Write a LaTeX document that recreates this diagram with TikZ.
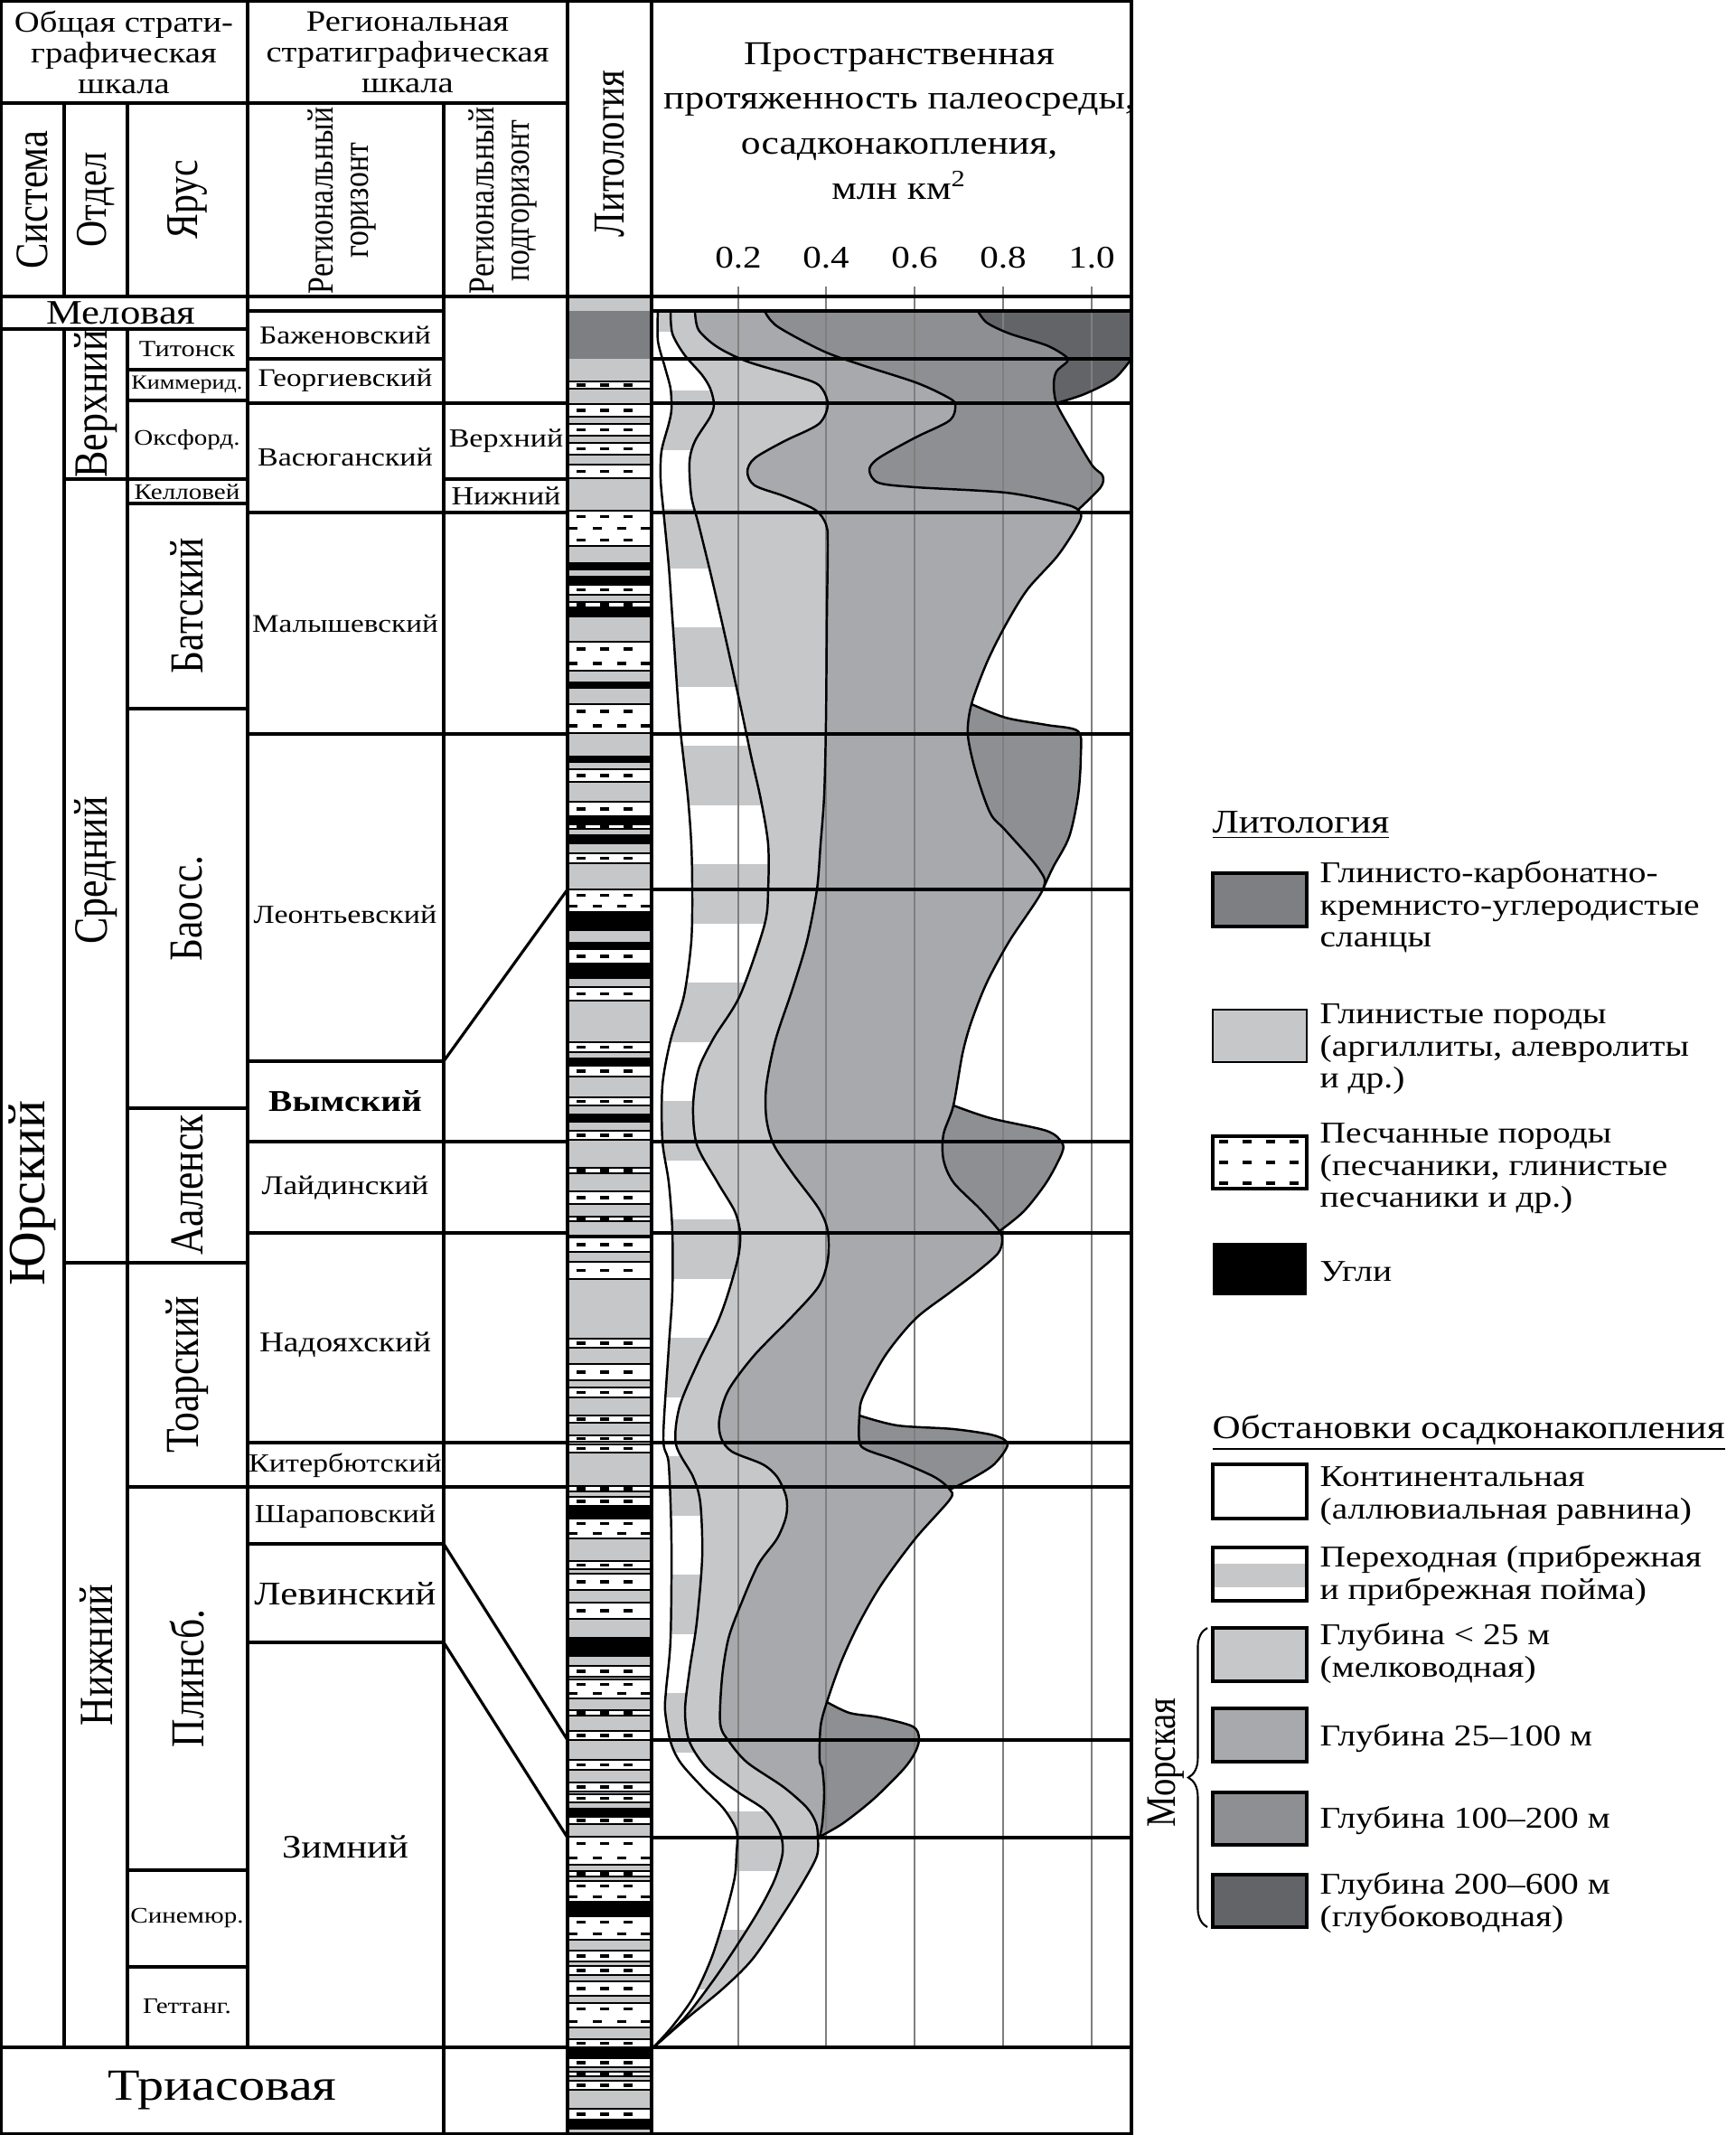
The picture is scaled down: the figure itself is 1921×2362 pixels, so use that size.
\documentclass[tikz,border=0pt]{standalone}
\usepackage{fontspec}
\setmainfont[FakeStretch=1.18]{Liberation Serif}
\newfontfamily\rotfont{Liberation Serif}
\usetikzlibrary{decorations.pathreplacing}

\definecolor{clay}{HTML}{C6C7C9}
\definecolor{mid}{HTML}{A7A9AC}
\definecolor{deep}{HTML}{8E8F92}
\definecolor{abyss}{HTML}{636468}
\definecolor{shale}{HTML}{7E7F83}
\definecolor{gridgray}{HTML}{7F7F7F}

\newcommand\fsz[2]{\fontsize{#1pt}{#2pt}\selectfont}
\newcommand\vtext[3]{\scalebox{1}[1.2]{\rotfont\fsz{#1}{#2}#3}}

\tikzset{
  rule/.style={line width=0.9pt},
  curve/.style={line width=0.7pt},
  gridline/.style={gridgray, line width=0.7pt},
  txt/.style={inner sep=0pt, align=center},
  vtxt/.style={inner sep=0pt, rotate=90},
  keybox/.style={draw, line width=1pt},
}

% sandstone bed in the lithology column
\newcommand\sandbed[2]{%
  \fill[white] (628,#1) rectangle (721,#2);
  \draw[line width=0.7pt] (628,#1) -- (721,#1) (628,#2) -- (721,#2);
  \pgfmathtruncatemacro\nrow{max(1,round((#2-#1)/13))}%
  \foreach \r in {1,...,\nrow}{%
    \pgfmathsetmacro\yy{#1+(\r-0.5)*(#2-#1)/\nrow}%
    \ifodd\r\relax
      \foreach \xx in {643,669,695}{\fill (\xx-5,\yy-1.7) rectangle (\xx+5,\yy+1.7);}%
    \else
      \foreach \xx in {634,661,688,714}{\fill (\xx-5,\yy-1.7) rectangle (\xx+5,\yy+1.7);}%
    \fi
  }%
}
% area from the left edge of the chart to a boundary curve
\newcommand\zonefill[4]{\edef\zonetmp{\noexpand\fill[#1] (721,#2) -- plot[smooth] coordinates {#3} -- (721,#4) -- cycle;}\zonetmp}
\newcommand\zoneline[1]{\edef\zonetmp{\noexpand\draw[curve] plot[smooth] coordinates {#1};}\zonetmp}
\newcommand\zoneclip[1]{\edef\zonetmp{\noexpand\clip (721,344) -- plot[smooth] coordinates {#1} -- (721,2266) -- cycle;}\zonetmp}

% boundary curves
\def\crvA{(728,344) (728,377) (736,407) (742,430) (743,453) (740,469) (732,499) (731,530) (734,564) (740,626) (744,683) (752,798) (761,880) (765,934) (766,984) (765,1041) (757,1101) (742,1151) (733,1201) (733,1262) (740,1308) (744,1362) (744,1430) (740,1491) (734,1591) (740,1620) (743,1706) (742,1813) (737,1870) (736,1893) (742,1927) (753,1950) (777,1977) (800,2000) (813,2020) (816,2032) (815,2050) (813,2077) (803,2117) (787,2167) (767,2210) (743,2243) (722,2266)}
\def\crvB{(742,344) (744,369) (757,392) (777,415) (786,430) (790,447) (786,461) (769,488) (763,511) (765,549) (773,580) (786,633) (802,702) (819,779) (831,836) (842,885) (850,934) (850,984) (846,1023) (819,1101) (790,1148) (773,1183) (767,1223) (771,1266) (794,1308) (813,1340) (819,1364) (817,1390) (806,1430) (794,1463) (773,1506) (752,1556) (748,1598) (767,1634) (775,1663) (777,1723) (771,1795) (763,1848) (758,1893) (763,1927) (783,1957) (817,1983) (847,2003) (863,2027) (866,2050) (857,2080) (840,2113) (817,2150) (790,2190) (757,2233) (722,2266)}
\def\crvC{(769,344) (773,365) (794,384) (827,400) (877,415) (906,426) (916,447) (906,469) (868,488) (835,507) (827,522) (835,537) (868,549) (902,564) (914,580) (916,600) (915,683) (914,798) (912,880) (908,934) (904,984) (893,1041) (877,1094) (858,1151) (848,1201) (848,1237) (856,1266) (877,1298) (906,1337) (916,1362) (916,1394) (906,1423) (877,1456) (835,1499) (806,1538) (796,1570) (798,1591) (810,1606) (844,1620) (860,1634) (870,1656) (870,1677) (860,1702) (839,1731) (819,1777) (806,1813) (799,1856) (797,1907) (807,1927) (827,1950) (867,1977) (893,2000) (903,2017) (905,2032) (904,2053) (890,2080) (867,2117) (833,2167) (800,2200) (760,2233) (722,2266)}
\def\crvD{(846,344) (860,361) (910,388) (951,403) (1013,423) (1046,438) (1057,447) (1051,465) (1013,484) (972,507) (962,520) (972,534) (1013,539) (1113,545) (1175,557) (1193,564) (1195,576) (1171,614) (1137,652) (1113,691) (1092,733) (1075,779) (1071,813) (1080,855) (1096,900) (1113,919) (1150,962) (1154,984) (1117,1041) (1092,1087) (1075,1130) (1065,1166) (1055,1223) (1044,1255) (1044,1283) (1055,1308) (1084,1337) (1106,1362) (1109,1373) (1104,1387) (1080,1408) (1051,1430) (1013,1459) (980,1499) (955,1545) (951,1566) (951,1595) (959,1604) (993,1616) (1034,1634) (1051,1648) (1051,1659) (1013,1702) (976,1752) (951,1795) (931,1838) (915,1883) (908,1910) (907,1947) (910,1957) (912,1983) (910,2017) (907,2032)}
\def\crvEa{(1082,344) (1092,357) (1117,369) (1158,382) (1179,394) (1181,400) (1169,411) (1166,426) (1169,446) (1183,472) (1208,514) (1220,526) (1218,539) (1193,564)}
\def\crvEb{(1075,779) (1113,794) (1158,802) (1193,809) (1196,836) (1193,880) (1183,926) (1165,960) (1154,984)}
\def\crvEc{(1055,1223) (1096,1237) (1158,1251) (1175,1264) (1175,1276) (1158,1308) (1133,1340) (1106,1362)}
\def\crvEd{(951,1566) (993,1577) (1055,1581) (1100,1588) (1115,1598) (1100,1620) (1075,1636) (1051,1648)}
\def\crvEe{(915,1883) (940,1895) (973,1900) (1010,1910) (1017,1923) (1013,1938) (1000,1957) (967,1990) (933,2017) (907,2032)}

\begin{document}
\begin{tikzpicture}[x=0.01cm,y=-0.01cm]
\useasboundingbox (0,0) rectangle (1921,2362);
\fill[white] (0,0) rectangle (1921,2362);

% lithology column
\fill[clay] (628,328) rectangle (721,2362);
\fill[shale] (628,344) rectangle (721,397);
\foreach \a/\b in {622/631,637/647,672/683,754/762,836/844,903/912,923/934,1009/1030,1042/1050,1066/1083,1170/1179,1232/1242,1366/1369,1666/1680,1811/1833,2000/2010,2104/2120,2265/2277,2345/2356}
  \fill (628,\a) rectangle (721,\b);
\foreach \a/\b in {422/430,447/461,469/482,490/503,514/529,565/604,647/658,666/672,710/742,779/811,851/865,887/903,912/917,944/955,984/1009,1050/1066,1092/1107,1153/1164,1179/1191,1214/1223,1251/1261,1292/1298,1318/1332,1346/1351,1369/1385,1396/1415,1481/1491,1509/1527,1535/1546,1566/1574,1588/1595,1598/1607,1644/1650,1656/1666,1680/1702,1727/1736,1741/1759,1773/1791,1843/1855,1858/1879,1892/1898,1915/1925,1947/1958,1972/1982,1985/1994,2010/2018,2032/2063,2070/2076,2081/2104,2120/2146,2158/2170,2175/2185,2192/2208,2216/2243,2256/2265,2277/2287,2292/2297,2302/2312,2333/2345}
  \sandbed{\a}{\b};

% palaeoenvironment areas
\fill[abyss] (721,344) -- (1252,344) -- (1252,397) -- plot[smooth] coordinates {(1252,397) (1233,419) (1200,436) (1169,446)} -- (721,446) -- cycle;
\zonefill{deep}{344}{\crvEa}{564}
\zonefill{deep}{779}{\crvEb}{984}
\zonefill{deep}{1223}{\crvEc}{1362}
\zonefill{deep}{1566}{\crvEd}{1648}
\zonefill{deep}{1883}{\crvEe}{2032}
\zonefill{mid}{344}{\crvD}{2032}
\zonefill{clay}{344}{\crvC}{2266}
\zonefill{white}{344}{\crvB}{2266}
\begin{scope}
  \zoneclip{\crvB}
  \foreach \k in {-1,...,13}
    \fill[clay] (721,{432+131*\k}) rectangle (1252,{498+131*\k});
\end{scope}
\zonefill{white}{344}{\crvA}{2266}

% scale lines
\foreach \x in {817,914,1012,1110,1208}
  \draw[gridline] (\x,317) -- (\x,2265);

% boundaries of the areas
\draw[curve] plot[smooth] coordinates {(1252,397) (1233,419) (1200,436) (1169,446)};
\zoneline{\crvEa}
\zoneline{\crvEb}
\zoneline{\crvEc}
\zoneline{\crvEd}
\zoneline{\crvEe}
\zoneline{\crvD}
\zoneline{\crvC}
\zoneline{\crvB}
\zoneline{\crvA}

% chart horizons
\foreach \y in {344,397,446,567,812,984,1263,1364,1596,1645,1925,2033}
  \draw[rule] (721,\y) -- (1252,\y);

% table
\draw[rule] (1,1) rectangle (1252,2361);
\draw[rule] (274,1) -- (274,2265);
\draw[rule] (491,114) -- (491,2361);
\draw[rule] (628,1) -- (628,2361);
\draw[rule] (721,1) -- (721,2361);
\draw[rule] (71,114) -- (71,328) (141,114) -- (141,328);
\draw[rule] (71,364) -- (71,2265) (141,364) -- (141,2265);
\draw[rule] (1,114) -- (628,114);
\draw[rule] (1,328) -- (1252,328);
\draw[rule] (1,364) -- (274,364);
\draw[rule] (71,530) -- (141,530) (71,1397) -- (141,1397);
\foreach \y in {409,443,530,557,784,1226,1397,1645,2069,2176}
  \draw[rule] (141,\y) -- (274,\y);
\foreach \y in {344,397,446,567,812,1174,1263,1364,1596,1645,1708,1817}
  \draw[rule] (274,\y) -- (491,\y);
\foreach \y in {446,530,567,812,1263,1364,1596,1645}
  \draw[rule] (491,\y) -- (628,\y);
\draw[rule] (1,2265) -- (628,2265) (721,2265) -- (1252,2265);

% correlation of horizons with the lithology
\coordinate (vymTop) at (491,1174);
\coordinate (litLeo) at (628,984);
\coordinate (levTop) at (491,1708);
\coordinate (litLev) at (628,1925);
\coordinate (zimTop) at (491,1817);
\coordinate (litZim) at (628,2033);
\draw[rule] (vymTop) -- (litLeo);
\draw[rule] (levTop) -- (litLev);
\draw[rule] (zimTop) -- (litZim);

% headings
\node[txt, font=\fsz{9.3}{9.6}] (hGen) at (137,58) {Общая страти-\\графическая\\шкала};
\node[txt, font=\fsz{9.3}{9.6}] (hReg) at (451,58) {Региональная\\стратиграфическая\\шкала};
\node[vtxt] (hSys) at (36,221) {\vtext{12.1}{14}{Система}};
\node[vtxt] (hOtd) at (106,221) {\vtext{11.5}{14}{Отдел}};
\node[vtxt] (hYar) at (207,221) {\vtext{11.9}{14}{Ярус}};
\node[vtxt] (hHor) at (380,222) {\vtext{9.6}{9.25}{\begin{tabular}{@{}c@{}}Региональный\\горизонт\end{tabular}}};
\node[vtxt] (hSub) at (558,222) {\vtext{9.6}{9.25}{\begin{tabular}{@{}c@{}}Региональный\\подгоризонт\end{tabular}}};
\node[vtxt] (hLit) at (675,170) {\vtext{11.6}{14}{Литология}};
\node[txt, font=\fsz{10.5}{14.2}] (hChart) at (995,134) {Пространственная\\протяженность палеосреды,\\осадконакопления,\\млн км\textsuperscript{2}};
\foreach \x/\lab [count=\i] in {817/0.2,914/0.4,1012/0.6,1110/0.8,1208/1.0}
  \node[txt, anchor=base, font=\fsz{9.9}{12}] (tick\i) at (\x,296) {\lab};

% general scale
\node[txt, font=\fsz{10.8}{12}] (nMel) at (134,346) {Меловая};
\node[vtxt] (nJur) at (36,1320) {\rotfont\fsz{16.5}{18}Юрский};
\node[vtxt] (nUp) at (106,447) {\vtext{12.5}{14}{Верхний}};
\node[vtxt] (nMid) at (106,963) {\vtext{12.5}{14}{Средний}};
\node[vtxt] (nLow) at (106,1831) {\vtext{12.5}{14}{Нижний}};
\node[txt, font=\fsz{7.3}{9}] (nTit) at (207,386) {Титонск};
\node[txt, font=\fsz{6.3}{8}] (nKim) at (207,426) {Киммерид.};
\node[txt, font=\fsz{7}{9}] (nOks) at (207,487) {Оксфорд.};
\node[txt, font=\fsz{7}{9}] (nKel) at (207,544) {Келловей};
\node[vtxt] (nBat) at (207,670) {\vtext{12.4}{14}{Батский}};
\node[vtxt] (nBaj) at (207,1005) {\vtext{12.4}{14}{Баосс.}};
\node[vtxt] (nAal) at (207,1311) {\vtext{12.4}{14}{Ааленск}};
\node[vtxt] (nToa) at (207,1521) {\vtext{12.4}{14}{Тоарский}};
\node[vtxt] (nPli) at (207,1857) {\vtext{12.4}{14}{Плинсб.}};
\node[txt, font=\fsz{7}{9}] (nSin) at (207,2122) {Синемюр.};
\node[txt, font=\fsz{7}{9}] (nGet) at (207,2220) {Геттанг.};
\node[txt, font=\fsz{14}{16}] (nTri) at (246,2313) {Триасовая};

% regional scale
\node[txt, font=\fsz{8.1}{10}] (gBaz) at (382,371) {Баженовский};
\node[txt, font=\fsz{8}{10}] (gGeo) at (382,421) {Георгиевский};
\node[txt, font=\fsz{8.2}{10}] (gVas) at (382,506) {Васюганский};
\node[txt, font=\fsz{8}{10}] (gMal) at (382,690) {Малышевский};
\node[txt, font=\fsz{8.2}{10}] (gLeo) at (382,1012) {Леонтьевский};
\node[txt, font=\fsz{9.5}{11}\bfseries] (gVym) at (382,1218) {Вымский};
\node[txt, font=\fsz{8.5}{10}] (gLai) at (382,1314) {Лайдинский};
\node[txt, font=\fsz{9}{11}] (gNad) at (382,1488) {Надояхский};
\node[txt, font=\fsz{8.2}{10}] (gKit) at (382,1621) {Китербютский};
\node[txt, font=\fsz{8.2}{10}] (gSha) at (382,1678) {Шараповский};
\node[txt, font=\fsz{10.4}{12}] (gLev) at (382,1763) {Левинский};
\node[txt, font=\fsz{10.3}{12}] (gZim) at (382,2043) {Зимний};
\node[txt, font=\fsz{8.2}{10}] (sUp) at (560,488) {Верхний};
\node[txt, font=\fsz{8.2}{10}] (sLow) at (560,549) {Нижний};

% legend: lithology
\node[txt, anchor=base west, font=\fsz{10.4}{12}] (keyLit) at (1341,921) {\underline{Литология}};
\draw[keybox, line width=1.2pt, fill=shale] (1342,966) rectangle (1446,1025);
\node[txt, anchor=north west, align=left, font=\fsz{9.5}{10.1}] (keyShale) at (1460,952) {Глинисто-карбонатно-\\кремнисто-углеродистые\\сланцы};
\draw[line width=0.5pt, fill=clay] (1342,1117) rectangle (1446,1175);
\node[txt, anchor=north west, align=left, font=\fsz{9.5}{10.1}] (keyClay) at (1460,1110) {Глинистые породы\\(аргиллиты, алевролиты\\и др.)};
\draw[keybox, fill=white] (1342,1257) rectangle (1446,1315);
\foreach \yy in {1263,1286,1309}
  \foreach \xx in {1354,1380,1406,1432}
    \fill (\xx-5,\yy-1.7) rectangle (\xx+5,\yy+1.7);
\node[txt, anchor=north west, align=left, font=\fsz{9.5}{10.1}] (keySand) at (1460,1242) {Песчанные породы\\(песчаники, глинистые\\песчаники и др.)};
\fill (1342,1375) rectangle (1446,1433);
\node[txt, anchor=base west, font=\fsz{9.5}{10.1}] (keyCoal) at (1460,1417) {Угли};

% legend: environments
\node[txt, anchor=base west, font=\fsz{10.4}{12}] (keyEnv) at (1341,1591) {\underline{Обстановки осадконакопления}};
\draw[keybox, line width=1.2pt, fill=white] (1342,1620) rectangle (1446,1680);
\node[txt, anchor=north west, align=left, font=\fsz{9.5}{10.1}] (keyCont) at (1460,1622) {Континентальная\\(аллювиальная равнина)};
\fill[white] (1342,1712) rectangle (1446,1771);
\fill[clay] (1342,1730) rectangle (1446,1756);
\draw[keybox, line width=1.2pt] (1342,1712) rectangle (1446,1771);
\node[txt, anchor=north west, align=left, font=\fsz{9.5}{10.1}] (keyTrans) at (1460,1709) {Переходная (прибрежная\\и прибрежная пойма)};
\draw[keybox, fill=clay] (1342,1801) rectangle (1446,1860);
\node[txt, anchor=north west, align=left, font=\fsz{9.5}{10.1}] (keyShallow) at (1460,1795) {Глубина < 25 м\\(мелководная)};
\draw[keybox, fill=mid] (1342,1890) rectangle (1446,1949);
\node[txt, anchor=base west, font=\fsz{9.5}{10.1}] (keyMid) at (1460,1931) {Глубина 25–100 м};
\draw[keybox, fill=deep] (1342,1983) rectangle (1446,2041);
\node[txt, anchor=base west, font=\fsz{9.5}{10.1}] (keyDeep) at (1460,2022) {Глубина 100–200 м};
\draw[keybox, fill=abyss] (1342,2074) rectangle (1446,2132);
\node[txt, anchor=north west, align=left, font=\fsz{9.5}{10.1}] (keyAbyss) at (1460,2071) {Глубина 200–600 м\\(глубоководная)};
\coordinate (seaLow) at (1336,2132);
\coordinate (seaHigh) at (1336,1801);
\draw[line width=0.6pt, decorate, decoration={brace, amplitude=6pt}] (seaLow) -- (seaHigh);
\node[vtxt] (keySea) at (1290,1950) {\vtext{11}{13}{Морская}};
\end{tikzpicture}
\end{document}
